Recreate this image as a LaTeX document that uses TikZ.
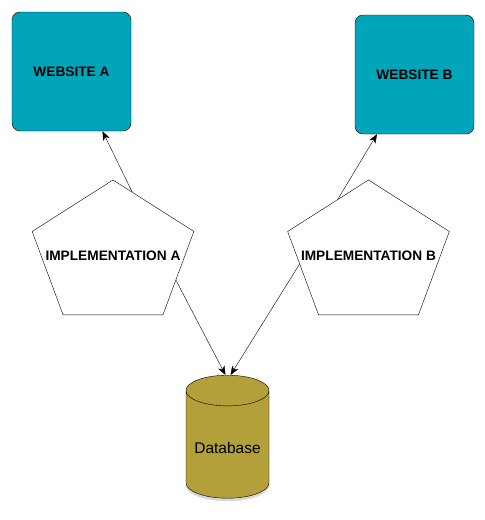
\documentclass[tikz,border=0pt]{standalone}
\usepackage{fontspec}
\setsansfont{Liberation Sans}
\usetikzlibrary{arrows.meta,shapes.geometric,shadows}
\tikzset{>={Stealth[length=9pt,width=7pt,inset=2.5pt]}}
\definecolor{sitecol}{HTML}{00A5B9}
\definecolor{dbcol}{HTML}{B3A03A}

\begin{document}
\begin{tikzpicture} [x=1pt,y=-1pt,font=\sffamily]

\tikzstyle{site}=[draw,fill=sitecol,rounded corners=8pt,minimum width=119pt,
  minimum height=119pt,font=\sffamily\bfseries\fontsize{13.7}{16}\selectfont]
\tikzstyle{impl}=[draw,regular polygon,regular polygon sides=5,minimum size=170pt,
  inner sep=0pt,yscale=0.877,transform shape]
\tikzstyle{implab}=[font=\sffamily\bfseries\fontsize{13.7}{16}\selectfont]
\tikzstyle{store}=[draw,fill=dbcol,cylinder,shape border rotate=90,aspect=0.42,
  minimum width=83pt,minimum height=123pt,
  drop shadow={shadow xshift=0pt,shadow yshift=-3pt,opacity=0.3},
  font=\sffamily\fontsize{15.5}{18}\selectfont]

\useasboundingbox (0,0) rectangle (485,520);

 \node[site] (wa) at (71.5,71.5) {WEBSITE A};
 \node[site] (wb) at (414.5,74.5) {WEBSITE B};

 \node[impl] (pa) at (113,254.5) {};
 \node[impl] (pb) at (368.5,254.5) {};
 \node[implab] (ta) at (113,256) {IMPLEMENTATION A};
 \node[implab] (tb) at (368.5,256) {IMPLEMENTATION B};

 \node[store] (db) at (227.5,447.5) {Database};

 \draw[->] (pa.75) -- ([xshift=31pt]wa.south);
 \draw[->] (pb.116) -- ([xshift=-37.5pt]wb.south);
 \draw[->] (pa.-25) -- ([xshift=-2pt]db.north);
 \draw[->] (pb.189) -- ([xshift=3pt]db.north);
\end{tikzpicture}
\end{document}
